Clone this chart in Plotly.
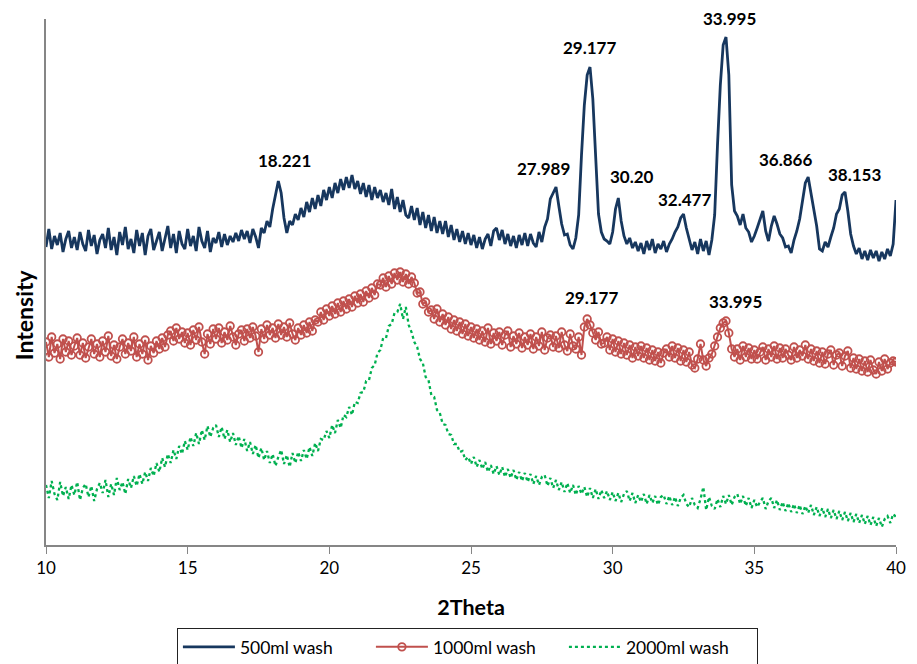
import numpy as np
import plotly.graph_objects as go

# 2-theta grid (degrees), 0.1 step from 10 to 40
two_theta = [round(10 + 0.1 * i, 1) for i in range(301)]

# Intensities (arbitrary units, series offset as in the original)
wash_500 = [
    298, 316, 296, 309, 300, 312, 293, 306, 314, 297,
    308, 295, 313, 301, 294, 315, 299, 310, 291, 305,
    311, 297, 317, 295, 308, 290, 313, 300, 318, 296,
    306, 292, 315, 299, 312, 290, 309, 316, 295, 305,
    313, 294, 307, 319, 297, 311, 292, 314, 301, 296,
    316, 299, 309, 294, 318, 304, 297, 314, 293, 307,
    302, 313, 298, 311, 300, 309, 303, 312, 304, 315,
    306, 314, 302, 316, 308, 297, 317, 312, 324, 318,
    336, 349, 364, 352, 327, 312, 324, 320, 331, 325,
    337, 328, 343, 333, 347, 336, 350, 339, 355, 345,
    358, 347, 362, 352, 366, 355, 368, 357, 370, 356,
    364, 351, 362, 348, 360, 345, 358, 347, 355, 343,
    352, 340, 356, 336, 348, 333, 345, 330, 327, 339,
    325, 337, 320, 333, 317, 330, 314, 328, 312, 324,
    311, 324, 308, 320, 305, 316, 303, 314, 301, 312,
    300, 310, 297, 308, 296, 306, 311, 299, 314, 317,
    305, 315, 301, 311, 299, 309, 297, 310, 300, 312,
    299, 311, 302, 298, 313, 303, 318, 326, 346, 352,
    358, 339, 321, 310, 311, 300, 296, 307, 330, 390,
    440, 470, 478, 446, 380, 331, 313, 306, 304, 301,
    313, 336, 347, 324, 309, 301, 307, 297, 303, 294,
    302, 291, 304, 295, 306, 292, 301, 296, 304, 293,
    301, 306, 313, 318, 327, 331, 317, 305, 295, 303,
    291, 306, 294, 304, 290, 305, 330, 400, 460, 500,
    508, 470, 360, 334, 329, 320, 331, 317, 313, 303,
    309, 317, 326, 334, 314, 304, 319, 329, 321, 311,
    307, 298, 299, 292, 305, 314, 326, 343, 362, 368,
    352, 333, 319, 296, 294, 303, 298, 308, 317, 331,
    336, 350, 353, 334, 311, 299, 291, 297, 286, 294,
    285, 295, 287, 294, 284, 293, 286, 296, 289, 301,
    345,
]

wash_1000 = [
    203, 188, 208, 192, 201, 186, 206, 193, 204, 190,
    199, 207, 190, 202, 187, 198, 206, 191, 201, 188,
    204, 193, 209, 189, 200, 186, 198, 206, 191, 202,
    194, 208, 188, 201, 191, 205, 185, 199, 192, 204,
    196, 207, 198, 210, 214, 204, 217, 206, 213, 202,
    212, 200, 215, 205, 218, 203, 191, 211, 201, 216,
    206, 217, 202, 213, 205, 219, 208, 200, 211, 215,
    204, 216, 207, 218, 209, 193, 216, 206, 220, 210,
    217, 207, 221, 210, 218, 208, 222, 211, 205, 217,
    210, 220, 212, 223, 214, 225, 223, 233, 225, 236,
    229, 239, 231, 242, 233, 244, 236, 246, 238, 249,
    242, 251, 243, 254, 247, 257, 250, 261, 260, 267,
    258, 269, 261, 272, 265, 273, 263, 271, 261, 268,
    262, 252, 253, 241, 243, 233, 235, 226, 236, 223,
    231, 220, 228, 216, 225, 214, 223, 211, 221, 209,
    218, 207, 216, 205, 214, 203, 217, 201, 212, 204,
    213, 200, 210, 214, 198, 209, 201, 212, 197, 208,
    200, 211, 196, 208, 199, 213, 195, 207, 210, 198,
    209, 197, 213, 200, 194, 211, 199, 196, 208, 190,
    218, 226, 220, 212, 205, 213, 201, 202, 208, 195,
    206, 193, 204, 191, 202, 190, 200, 187, 198, 189,
    199, 187, 197, 185, 195, 184, 193, 182, 192, 196,
    188, 199, 187, 197, 184, 195, 183, 193, 180, 177,
    186, 201, 185, 179, 187, 191, 199, 208, 217, 222,
    224, 212, 196, 188, 196, 185, 199, 188, 197, 186,
    195, 186, 193, 198, 185, 196, 188, 199, 186, 197,
    187, 196, 190, 185, 198, 187, 195, 189, 200, 186,
    196, 184, 194, 182, 193, 181, 191, 195, 180, 190,
    192, 179, 189, 194, 177, 187, 176, 186, 174, 184,
    173, 185, 175, 171, 183, 174, 186, 176, 182, 184,
    183,
]

wash_2000 = [
    60, 47, 64, 51, 45, 63, 49, 58, 46, 60,
    50, 63, 45, 57, 61, 48, 59, 44, 56, 62,
    52, 65, 48, 61, 50, 67, 55, 63, 51, 66,
    57, 69, 59, 71, 61, 73, 64, 77, 69, 82,
    73, 87, 78, 91, 82, 95, 86, 99, 91, 104,
    95, 108, 99, 112, 101, 115, 105, 119, 108, 117,
    120, 108, 118, 106, 115, 103, 112, 100, 109, 97,
    106, 94, 103, 91, 100, 87, 97, 85, 94, 82,
    91, 79, 88, 95, 81, 90, 78, 92, 82, 93,
    84, 95, 86, 98, 89, 102, 94, 106, 105, 114,
    107, 120, 112, 125, 117, 130, 128, 138, 130, 143,
    142, 152, 153, 164, 165, 177, 180, 192, 195, 207,
    207, 219, 221, 232, 233, 241, 226, 238, 220, 213,
    203, 198, 186, 182, 168, 165, 150, 148, 135, 132,
    121, 120, 111, 110, 101, 101, 93, 94, 85, 88,
    81, 88, 78, 85, 76, 83, 73, 80, 71, 79,
    70, 78, 68, 76, 67, 75, 65, 73, 64, 72,
    63, 71, 61, 69, 60, 68, 70, 59, 67, 57,
    65, 55, 63, 53, 62, 52, 60, 50, 59, 51,
    58, 48, 57, 47, 56, 46, 55, 47, 54, 45,
    53, 44, 52, 43, 51, 54, 44, 52, 42, 50,
    43, 51, 41, 50, 42, 49, 40, 48, 50, 41,
    49, 40, 48, 39, 47, 50, 41, 38, 47, 40,
    37, 46, 58, 35, 48, 39, 36, 46, 38, 49,
    41, 50, 40, 48, 51, 41, 49, 39, 47, 37,
    45, 38, 43, 47, 36, 44, 47, 37, 45, 35,
    43, 34, 42, 33, 41, 32, 40, 31, 39, 32,
    40, 30, 38, 29, 37, 28, 36, 27, 35, 26,
    34, 25, 33, 24, 32, 23, 31, 22, 30, 21,
    29, 20, 28, 19, 27, 18, 26, 29, 22, 31,
    28,
]

series_names = ["500ml wash", "1000ml wash", "2000ml wash"]

# Peak labels
peak_labels_500 = ["18.221", "27.989", "29.177", "30.20", "32.477", "33.995", "36.866", "38.153"]
peak_labels_1000 = ["29.177", "33.995"]
# label pixel offsets (x, y) relative to the peak top
offs_500 = [(6, 21), (-12, 19), (0, 20), (14, 22), (2, 15), (4, 19), (-22, 18), (11, 18)]
offs_1000 = [(2, 22), (10, 20)]

FONT = "Lato, 'Open Sans', sans-serif"

fig = go.Figure()
fig.add_trace(go.Scatter(
    x=two_theta, y=wash_500, name=series_names[0], mode="lines",
    line=dict(color="#17375E", width=2.8),
))
fig.add_trace(go.Scatter(
    x=two_theta, y=wash_1000, name=series_names[1], mode="lines+markers",
    line=dict(color="#C0504D", width=2),
    marker=dict(symbol="circle-open", size=7.5, color="#C0504D", line=dict(width=1.8)),
))
fig.add_trace(go.Scatter(
    x=two_theta, y=wash_2000, name=series_names[2], mode="lines",
    line=dict(color="#00B050", width=2.3, dash="dot"),
))

tt = np.array(two_theta)


def peak_top(series, pos):
    s = np.array(series)
    idx = np.where(np.abs(tt - pos) <= 0.16)[0]
    return s[idx[np.argmax(s[idx])]]


label_font = dict(family=FONT, size=17, color="black", weight="bold")
annotations = []
for series, labels, offs in ((wash_500, peak_labels_500, offs_500),
                             (wash_1000, peak_labels_1000, offs_1000)):
    for lab, (dx, dy) in zip(labels, offs):
        p = float(lab)
        annotations.append(dict(x=p, y=peak_top(series, p), xref="x", yref="y", text=lab,
                                showarrow=False, xshift=dx, yshift=dy, font=label_font))

# y-axis title, placed a little below centre as in the original
annotations.append(dict(x=0, y=0.437, xref="paper", yref="paper", text="<b>Intensity</b>",
                        textangle=-90, showarrow=False, xanchor="center", yanchor="middle",
                        xshift=-22, font=dict(family=FONT, size=23, color="black")))

# The page body adds an 8 px offset, so margins are shifted to compensate.
fig.update_layout(
    width=917, height=664,
    margin=dict(l=38, r=29, t=11, b=127),
    paper_bgcolor="white", plot_bgcolor="white",
    font=dict(family=FONT, color="black"),
    annotations=annotations,
    showlegend=True,
    legend=dict(
        orientation="h", xref="container", yref="container",
        x=0.501, xanchor="center", y=0.0663, yanchor="top",
        bordercolor="#222222", borderwidth=1, bgcolor="white",
        font=dict(family=FONT, size=17.5, color="black"),
        itemwidth=52, entrywidth=126, entrywidthmode="pixels",
    ),
    xaxis=dict(
        range=[10, 40], tickmode="array", tickvals=[10, 15, 20, 25, 30, 35, 40],
        ticks="outside", ticklen=7, tickwidth=1.3, tickcolor="#868686",
        showline=True, linecolor="#868686", linewidth=1.5, showgrid=False, zeroline=False,
        automargin=False,
        tickfont=dict(family=FONT, size=17, color="black"),
        title=dict(text="<b>2Theta</b>", font=dict(family=FONT, size=21.5, color="black"), standoff=23),
    ),
    yaxis=dict(
        range=[0, 526], showticklabels=False, ticks="",
        showline=True, linecolor="#868686", linewidth=1.5, showgrid=False, zeroline=False,
        automargin=False,
    ),
)

fig.write_html("out.html")
